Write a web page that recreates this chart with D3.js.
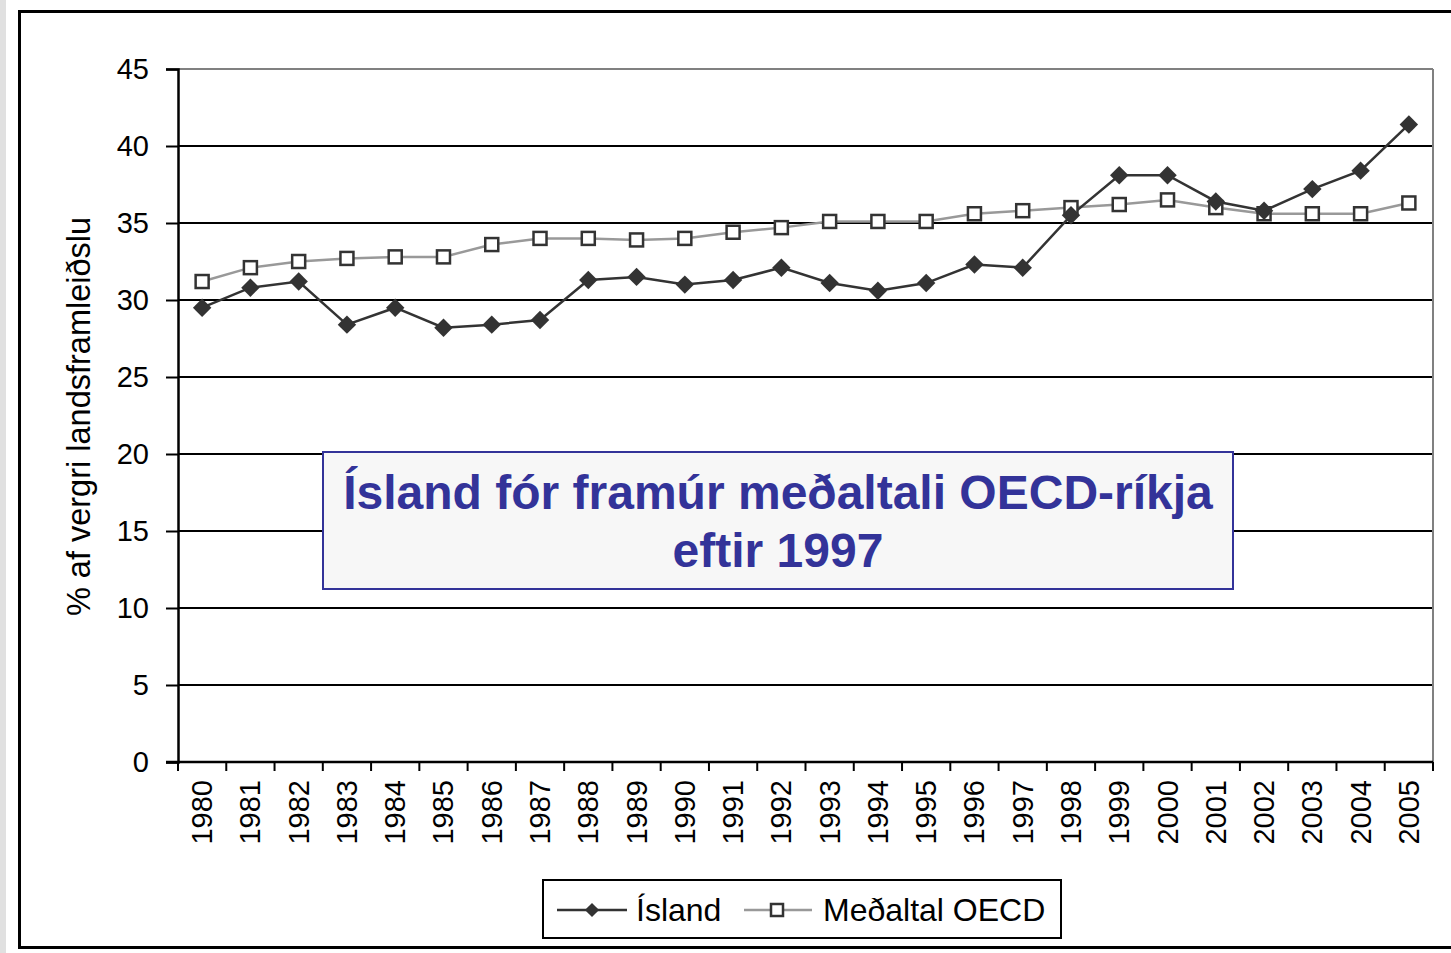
<!DOCTYPE html>
<html><head><meta charset="utf-8">
<script src="https://cdn.jsdelivr.net/npm/d3@7"></script>
<style>
html,body{margin:0;padding:0;background:#fff;}
svg{display:block;font-family:Arial,"Liberation Sans",sans-serif;}
</style></head>
<body>
<svg id="chart" width="1451" height="953"></svg>
<script>
const years = ["1980","1981","1982","1983","1984","1985","1986","1987","1988","1989","1990","1991","1992","1993","1994","1995","1996","1997","1998","1999","2000","2001","2002","2003","2004","2005"];
const island = [29.5,30.8,31.2,28.4,29.5,28.2,28.4,28.7,31.3,31.5,31.0,31.3,32.1,31.1,30.6,31.1,32.3,32.1,35.5,38.1,38.1,36.4,35.8,37.2,38.4,41.4];
const oecd = [31.2,32.1,32.5,32.7,32.8,32.8,33.6,34.0,34.0,33.9,34.0,34.4,34.7,35.1,35.1,35.1,35.6,35.8,36.0,36.2,36.5,36.0,35.6,35.6,35.6,36.3];
const yTicks = [0,5,10,15,20,25,30,35,40,45];
const seriesNames = ["Ísland","Meðaltal OECD"];
const yTitle = "% af vergri landsframleiðslu";
const noteLines = ["Ísland fór framúr meðaltali OECD-ríkja","eftir 1997"];

const svg = d3.select("#chart");
svg.append("rect").attr("x",0).attr("y",0).attr("width",6).attr("height",953).attr("fill","#e0e0e0");
svg.append("rect").attr("x",19.5).attr("y",11.5).attr("width",1500).attr("height",936).attr("fill","none").attr("stroke","#000").attr("stroke-width",3);

const L=178, R=1433, T=69, B=762;
const x = d3.scaleBand().domain(years).range([L,R]).padding(0);
const y = d3.scaleLinear().domain([0,45]).range([B,T]);

const g = svg.append("g");
g.selectAll("line.grid").data(yTicks.filter(d=>d>0 && d<45)).join("line")
  .attr("x1",L).attr("x2",R).attr("y1",d=>y(d)).attr("y2",d=>y(d))
  .attr("stroke","#000").attr("stroke-width",2);
g.append("line").attr("x1",L).attr("x2",R).attr("y1",y(45)).attr("y2",y(45)).attr("stroke","#808080").attr("stroke-width",2);
g.append("line").attr("x1",R).attr("x2",R).attr("y1",y(45)).attr("y2",B).attr("stroke","#808080").attr("stroke-width",2);

const yAxis = d3.axisLeft(y).tickValues(yTicks).tickSize(12).tickPadding(17);
const ya = svg.append("g").attr("transform",`translate(${L},0)`).call(yAxis);
ya.select(".domain").attr("stroke","#000").attr("stroke-width",2.5);
ya.selectAll(".tick line").attr("stroke","#000").attr("stroke-width",2);
ya.selectAll(".tick text").attr("font-size",29).attr("font-family","Arial, 'Liberation Sans', sans-serif").attr("fill","#000").attr("dy","0.34em");

const xa = svg.append("g").attr("transform",`translate(0,${B})`);
xa.append("line").attr("x1",L-12).attr("x2",R).attr("y1",0).attr("y2",0).attr("stroke","#000").attr("stroke-width",2.5);
const bounds = years.map(d=>x(d)).concat([R]);
xa.selectAll("line.xt").data(bounds).join("line")
  .attr("x1",d=>d).attr("x2",d=>d).attr("y1",0).attr("y2",9).attr("stroke","#000").attr("stroke-width",2);
xa.selectAll("text.yl").data(years).join("text")
  .attr("transform",d=>`translate(${x(d)+x.bandwidth()/2+10},${18}) rotate(-90)`)
  .attr("text-anchor","end").attr("font-size",29).attr("fill","#000").text(d=>d);

svg.append("text").attr("transform",`translate(90,${(215+618)/2}) rotate(-90)`)
  .attr("text-anchor","middle").attr("font-size",32.5).attr("fill","#000").text(yTitle);

const cx = d=>x(d)+x.bandwidth()/2;
const lineGen = arr => d3.line().x((d,i)=>cx(years[i])).y(d=>y(d))(arr);
svg.append("path").attr("d",lineGen(oecd)).attr("fill","none").attr("stroke","#999").attr("stroke-width",2.5);
svg.append("path").attr("d",lineGen(island)).attr("fill","none").attr("stroke","#333").attr("stroke-width",2.5);

const diamond = d3.symbol().type(d3.symbolSquare).size(170);
svg.selectAll("rect.oe").data(oecd).join("rect")
  .attr("x",(d,i)=>cx(years[i])-6.5).attr("y",d=>y(d)-6.5).attr("width",13).attr("height",13)
  .attr("fill","#fff").attr("stroke","#333").attr("stroke-width",2.5);
svg.selectAll("path.is").data(island).join("path")
  .attr("d",diamond).attr("transform",(d,i)=>`translate(${cx(years[i])},${y(d)}) rotate(45)`)
  .attr("fill","#333");

svg.append("rect").attr("x",323).attr("y",452).attr("width",910).attr("height",137)
  .attr("fill","#f7f7f7").attr("stroke","#333399").attr("stroke-width",2);
svg.selectAll("text.note").data(noteLines).join("text")
  .attr("x",778).attr("y",(d,i)=>509+i*58).attr("text-anchor","middle")
  .attr("font-size",48).attr("font-weight","bold").attr("fill","#333399").text(d=>d);

const lg = svg.append("g");
lg.append("rect").attr("x",543).attr("y",880).attr("width",518).attr("height",58).attr("fill","#fff").attr("stroke","#000").attr("stroke-width",2);
lg.append("line").attr("x1",557).attr("x2",627).attr("y1",910).attr("y2",910).attr("stroke","#333").attr("stroke-width",2.5);
lg.append("path").attr("d",d3.symbol().type(d3.symbolSquare).size(100)).attr("transform","translate(592,910) rotate(45)").attr("fill","#333");
lg.append("text").attr("x",636).attr("y",921).attr("font-size",32).attr("fill","#000").text(seriesNames[0]);
lg.append("line").attr("x1",744).attr("x2",812).attr("y1",910).attr("y2",910).attr("stroke","#999").attr("stroke-width",2.5);
lg.append("rect").attr("x",771).attr("y",904).attr("width",12).attr("height",12).attr("fill","#fff").attr("stroke","#333").attr("stroke-width",2.5);
lg.append("text").attr("x",823).attr("y",921).attr("font-size",32).attr("fill","#000").text(seriesNames[1]);
</script>
</body></html>
